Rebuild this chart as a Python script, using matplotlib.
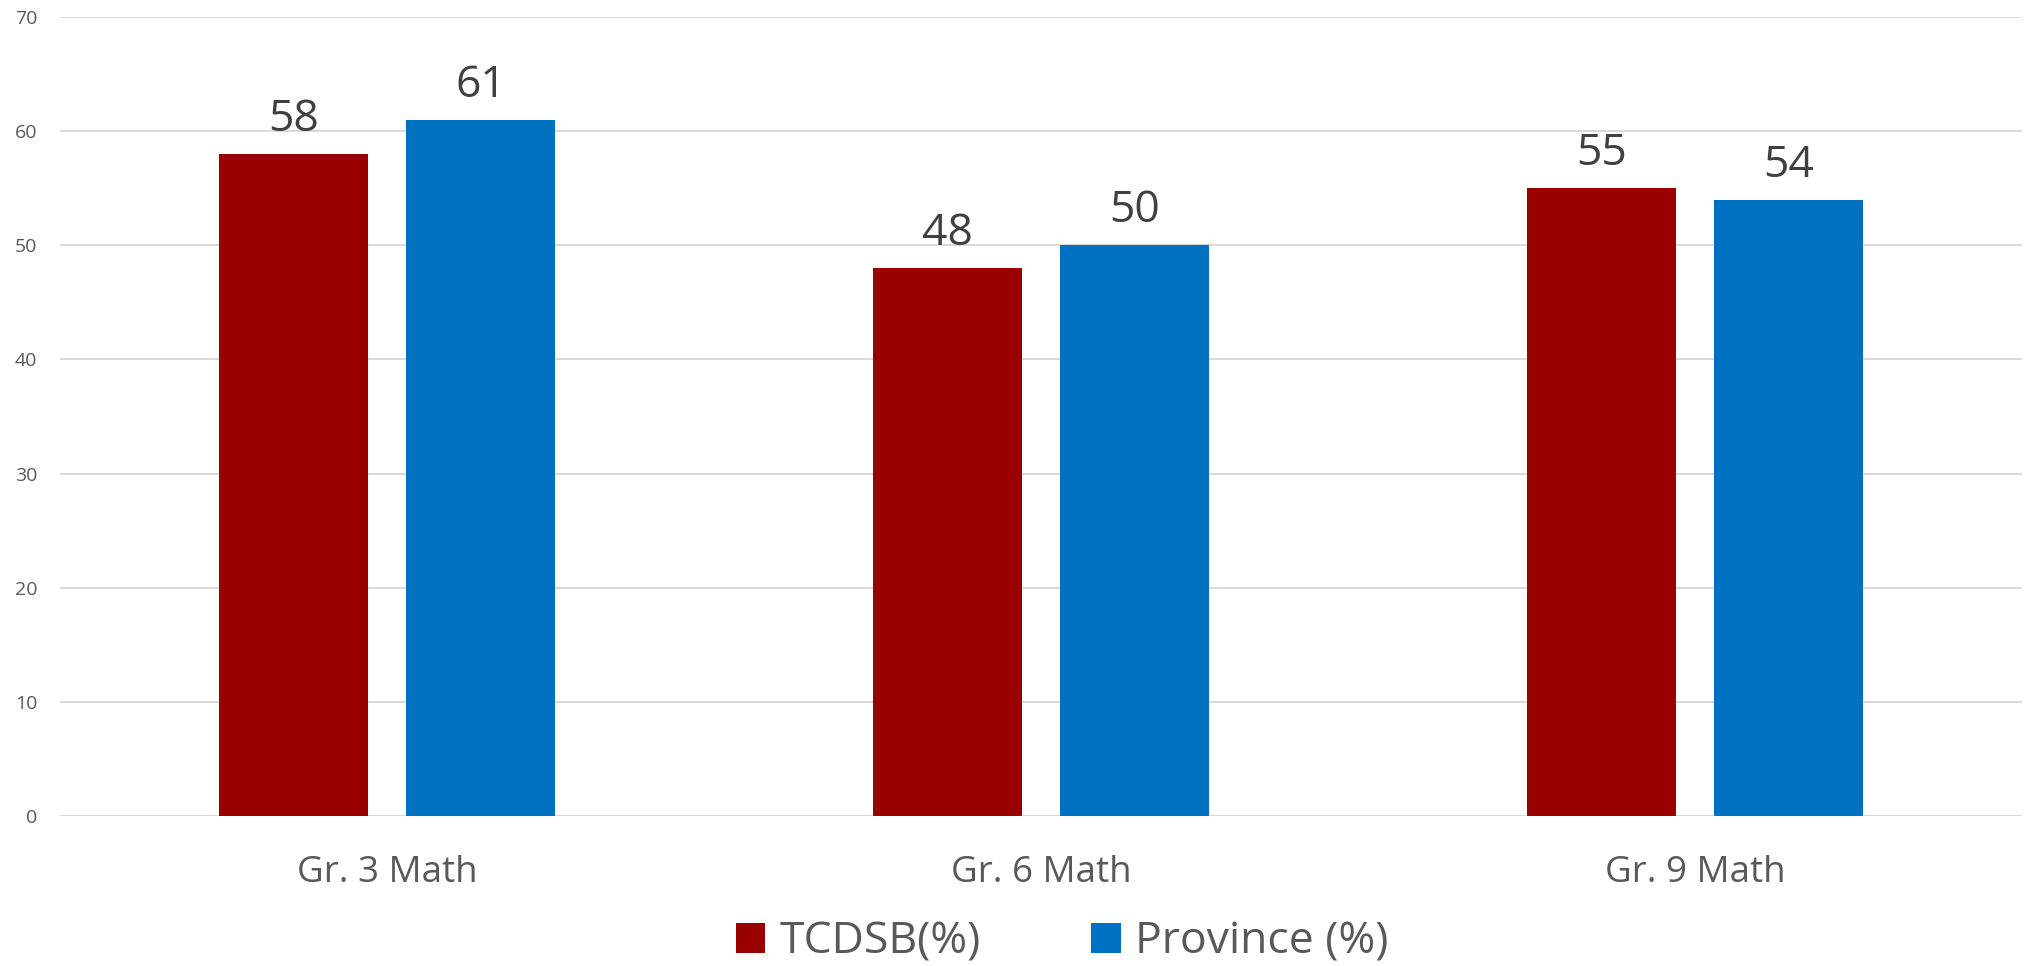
import numpy as np
import matplotlib.pyplot as plt
from matplotlib.patches import Patch

# EQAO math results, TCDSB vs Province
categories = ['Gr. 3 Math', 'Gr. 6 Math', 'Gr. 9 Math']
tcdsb = [58, 48, 55]
province = [61, 50, 54]
series_names = ['TCDSB(%)', 'Province (%)']
yticks = [0, 10, 20, 30, 40, 50, 60, 70]

red = '#990000'
blue = '#0070C0'

plt.rcParams['font.family'] = ['Open Sans', 'DejaVu Sans']

fig = plt.figure(figsize=(20.25, 9.66), dpi=100)
ax = fig.add_axes([60 / 2025, 1 - 816 / 966, 1962 / 2025, 799 / 966])

x = np.arange(len(categories))
w = 0.228
off = 0.143
b1 = ax.bar(x - off, tcdsb, w, color=red, zorder=3)
b2 = ax.bar(x + off, province, w, color=blue, zorder=3)

for bars in (b1, b2):
    for b in bars:
        ax.annotate('{}'.format(int(b.get_height())),
                    xy=(b.get_x() + b.get_width() / 2, b.get_height()),
                    xytext=(0, 8.5), textcoords='offset points',
                    ha='center', va='bottom', fontsize=32, color='#404040')

ax.set_xlim(-0.5, len(categories) - 0.5)
ax.set_ylim(0, 70)
ax.set_yticks(yticks)
ax.set_xticks(x)
ax.set_xticklabels(categories)
ax.tick_params(axis='x', length=0, pad=28, labelsize=26.5, labelcolor='#595959')
ax.tick_params(axis='y', length=0, pad=16.5, labelsize=14, labelcolor='#595959')
ax.grid(axis='y', color='#d9d9d9', linewidth=1.4, zorder=0)
ax.set_axisbelow(True)
for s in ax.spines.values():
    s.set_visible(False)

handles = [Patch(facecolor=red), Patch(facecolor=blue)]
fig.legend(handles, series_names, loc='center', bbox_to_anchor=(1062 / 2025, 1 - 942 / 966),
           ncol=2, frameon=False, fontsize=32, labelcolor='#595959',
           handlelength=0.67, handleheight=0.67, handletextpad=0.31,
           columnspacing=2.5, borderpad=0, borderaxespad=0)

fig.savefig('out.png', dpi=100)
